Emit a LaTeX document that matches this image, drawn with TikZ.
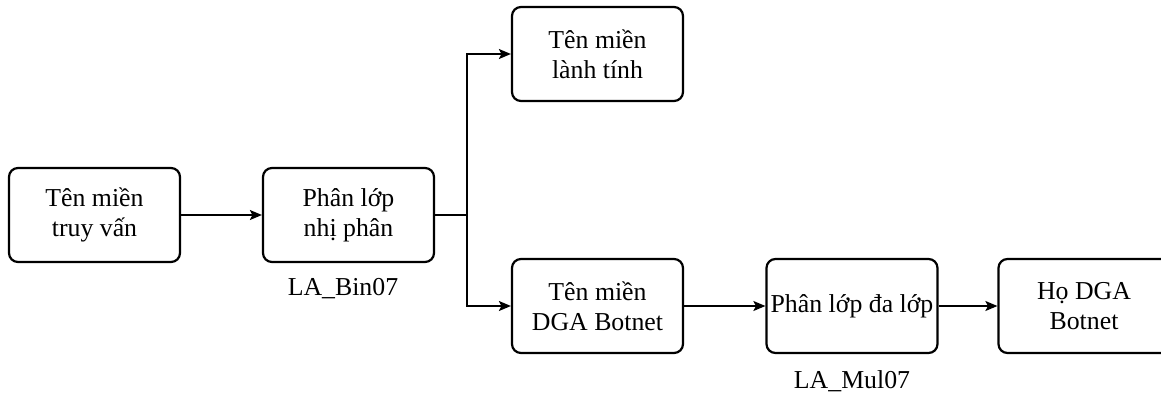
\documentclass[tikz,border=0pt]{standalone}
\usepackage{fontspec}
\setmainfont{Liberation Serif}
\usetikzlibrary{arrows.meta}
\begin{document}
\begin{tikzpicture}[x=1pt,y=-1pt,
  box/.style={draw, line width=2.2pt, rounded corners=9pt, minimum width=171pt, minimum height=94pt,
    align=center, inner sep=0pt, font=\fontsize{25.8}{30}\selectfont},
  conn/.style={line width=1.4pt, -{Stealth[length=12pt,width=10pt,inset=2.5pt]}},
  plain/.style={line width=1.4pt},
  lbl/.style={font=\fontsize{25.8}{30}\selectfont, inner sep=0pt}]
\useasboundingbox (0,0) rectangle (1161,394);
\node[box] (b1) at (94.5,215) {Tên miền\\truy vấn};
\node[box] (b2) at (348.5,215) {Phân lớp\\nhị phân};
\node[box] (b3) at (597.5,54) {Tên miền\\lành tính};
\node[box] (b4) at (597.5,306) {Tên miền\\DGA Botnet};
\node[box] (b5) at (852,306) {Phân lớp đa lớp};
\node[box] (b6) at (1084,306) {Họ DGA\\Botnet};
\node[lbl] (l1) at (343,289) {LA\_Bin07};
\node[lbl] (l2) at (852,381) {LA\_Mul07};
\coordinate (j) at (467,215);
\draw[conn] (b1) -- (b2);
\draw[plain] (b2.east) -- (j);
\draw[conn] (j) |- (b3);
\draw[conn] (j) |- (b4);
\draw[conn] (b4) -- (b5);
\draw[conn] (b5) -- (b6);
\end{tikzpicture}
\end{document}
